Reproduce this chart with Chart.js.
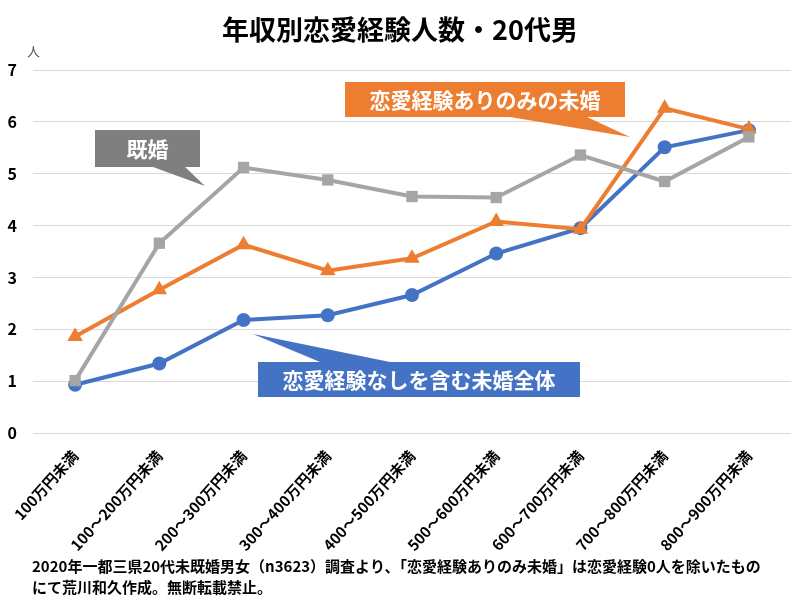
<!DOCTYPE html>
<html lang="ja">
<head>
<meta charset="utf-8">
<script src="https://cdn.jsdelivr.net/npm/chart.js@4"></script>
<style>
    html, body { margin: 0; padding: 0; background: #fff; }
    #wrap { width: 800px; height: 600px; }
</style>
</head>
<body>
<div id="wrap"><canvas id="chart" width="800" height="600"></canvas></div>
<script>
// Datos
const categories = ['100万円未満', '100～200万円未満', '200～300万円未満', '300～400万円未満',
    '400～500万円未満', '500～600万円未満', '600～700万円未満', '700～800万円未満', '800～900万円未満'];
const unmarriedAll = [0.93, 1.34, 2.18, 2.27, 2.66, 3.46, 3.95, 5.51, 5.84];
const unmarriedExp = [1.86, 2.76, 3.63, 3.13, 3.37, 4.08, 3.93, 6.26, 5.86];
const married = [1.01, 3.66, 5.12, 4.88, 4.56, 4.54, 5.36, 4.85, 5.71];
const yTicks = [0, 1, 2, 3, 4, 5, 6, 7];

const FONT = '"Noto Sans CJK JP", "Noto Sans", sans-serif';
const BLUE = '#4472c4';
const ORANGE = '#ed7d31';
const GRAY = '#a5a5a5';

// Textos y llamadas
const titleText = '年収別恋愛経験人数・20代男';
const unitText = '人';
const noteLines = [
    '2020年一都三県20代未既婚男女（n3623）調査より、「恋愛経験ありのみ未婚」は恋愛経験0人を除いたもの',
    'にて荒川和久作成。無断転載禁止。'
];
const callouts = [
    { text: '既婚', color: '#7f7f7f', box: [95, 130, 200, 167], tail: [[153, 167], [185, 167], [205, 186]] },
    { text: '恋愛経験ありのみの未婚', color: ORANGE, box: [345, 82, 625, 117], tail: [[510, 117], [587, 117], [630, 137]] },
    { text: '恋愛経験なしを含む未婚全体', color: BLUE, box: [258, 362, 580, 397], tail: [[320, 362], [390, 362], [253, 334]] }
];

const decorPlugin = {
    id: 'decor',
    afterDraw(chart) {
        const ctx = chart.ctx;
        ctx.save();
        // Título
        ctx.fillStyle = '#000';
        ctx.font = 'bold 27px ' + FONT;
        ctx.textAlign = 'center';
        ctx.textBaseline = 'middle';
        ctx.fillText(titleText, 400, 30, 368);
        // Unidad
        ctx.fillStyle = '#595959';
        ctx.font = '13px ' + FONT;
        ctx.textAlign = 'left';
        ctx.fillText(unitText, 27, 51);
        // Nota al pie
        ctx.fillStyle = '#000';
        ctx.font = 'bold 15px ' + FONT;
        ctx.fillText(noteLines[0], 32, 566, 754);
        ctx.fillText(noteLines[1], 32, 587);
        // Llamadas
        callouts.forEach(c => {
            const [x1, y1, x2, y2] = c.box;
            ctx.fillStyle = c.color;
            ctx.fillRect(x1, y1, x2 - x1, y2 - y1);
            ctx.beginPath();
            ctx.moveTo(c.tail[0][0], c.tail[0][1]);
            ctx.lineTo(c.tail[2][0], c.tail[2][1]);
            ctx.lineTo(c.tail[1][0], c.tail[1][1]);
            ctx.closePath();
            ctx.fill();
            ctx.fillStyle = '#fff';
            ctx.font = 'bold 21px ' + FONT;
            ctx.textAlign = 'center';
            ctx.fillText(c.text, (x1 + x2) / 2, (y1 + y2) / 2 + 1);
        });
        ctx.restore();
    }
};

function lineSet(label, data, color, style, radius) {
    return {
        label: label,
        data: data,
        borderColor: color,
        backgroundColor: color,
        borderWidth: 4,
        pointStyle: style,
        pointRadius: radius,
        pointHoverRadius: radius,
        pointBorderWidth: 0,
        tension: 0
    };
}

new Chart(document.getElementById('chart').getContext('2d'), {
    type: 'line',
    data: {
        labels: categories,
        datasets: [
            lineSet('既婚', married, GRAY, 'rect', 8),
            lineSet('恋愛経験ありのみの未婚', unmarriedExp, ORANGE, 'triangle', 9),
            lineSet('恋愛経験なしを含む未婚全体', unmarriedAll, BLUE, 'circle', 7)
        ]
    },
    options: {
        responsive: false,
        animation: false,
        layout: { padding: { top: 70, right: 9, bottom: 44, left: 0 } },
        plugins: {
            legend: { display: false },
            title: { display: false },
            tooltip: { enabled: false }
        },
        scales: {
            x: {
                offset: true,
                grid: { display: false },
                border: { display: false },
                ticks: {
                    autoSkip: false,
                    minRotation: 48,
                    maxRotation: 48,
                    padding: 6,
                    color: '#000',
                    font: { family: FONT, size: 15, weight: 'bold' }
                },
                afterFit(scale) {
                    scale.height = 123;
                    scale.paddingLeft = 0;
                    scale.paddingRight = 0;
                }
            },
            y: {
                min: 0,
                max: 7,
                afterBuildTicks(scale) { scale.ticks = yTicks.map(v => ({ value: v })); },
                grid: { color: '#d9d9d9', lineWidth: 1, drawTicks: false },
                border: { display: false },
                ticks: {
                    padding: 16,
                    color: '#000',
                    font: { family: FONT, size: 16, weight: 'bold' }
                },
                afterFit(scale) { scale.width = 33; }
            }
        }
    },
    plugins: [decorPlugin]
});
</script>
</body>
</html>
